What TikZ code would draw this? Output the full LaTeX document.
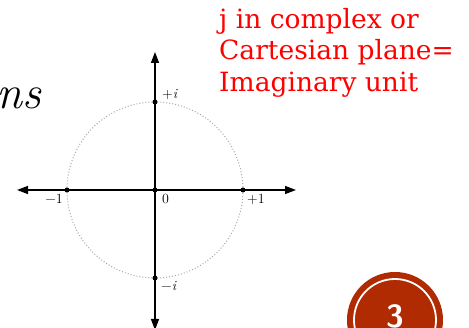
\documentclass[tikz,border=0pt]{standalone}
\usepackage{fontspec}
\newfontfamily\slabfont{DejaVu Serif}
\usetikzlibrary{arrows.meta}
\definecolor{badgered}{HTML}{B02A02}
\definecolor{circgray}{HTML}{A8A8A8}
\begin{document}
\begin{tikzpicture}[x=1pt,y=-1pt,
  axis/.style={line width=1.4pt,-{Triangle[length=11pt,width=8pt]}},
  dotpt/.style={circle,fill=black,inner sep=0pt,minimum size=5pt},
  lbl/.style={font=\fontsize{14}{14}\selectfont,inner sep=1pt},
  redtxt/.style={text=red,font=\slabfont\fontsize{26.5}{31.5}\selectfont,align=left,anchor=north west,inner sep=0pt}]
\useasboundingbox (0,0) rectangle (469,328);
% centre and points
\coordinate (O) at (155,190);
\coordinate (L) at (17,190);
\coordinate (R) at (296,190);
\coordinate (T) at (155,52);
\coordinate (B) at (155,330);
\draw[circgray,dotted,line width=1pt] (O) circle[radius=88];
\draw[axis] (O) -- (L);
\draw[axis] (O) -- (R);
\draw[axis] (O) -- (T);
\draw[axis] (O) -- (B);
\node[dotpt] (p0) at (O) {};
\node[dotpt] (pm1) at (67,190) {};
\node[dotpt] (pp1) at (243,190) {};
\node[dotpt] (ppi) at (155,102) {};
\node[dotpt] (pmi) at (155,278) {};
\node[lbl,anchor=north west] (l0) at (161,193) {0};
\node[lbl,anchor=north east] (lm1) at (64,193) {−1};
\node[lbl,anchor=north west] (lp1) at (246,193) {+1};
\node[lbl,anchor=south west] (lpi) at (161,101) {+\textit{i}};
\node[lbl,anchor=north west] (lmi) at (160,280) {−\textit{i}};
% title fragment
\node[anchor=base west,inner sep=0pt,font=\fontsize{47}{47}\selectfont] (ns) at (-4,109) {\textit{ns}};
% red text
\node[redtxt] (txt) at (219,8) {j in complex or\\Cartesian plane=\\Imaginary unit};
% badge
\fill[badgered] (395,320) circle[radius=48];
\draw[white,line width=1.8pt] (395,320) circle[radius=41];
\node[text=white,font=\sffamily\bfseries\fontsize{32}{32}\selectfont,anchor=north,inner sep=0pt] (num) at (395,304) {3};
\end{tikzpicture}
\end{document}
